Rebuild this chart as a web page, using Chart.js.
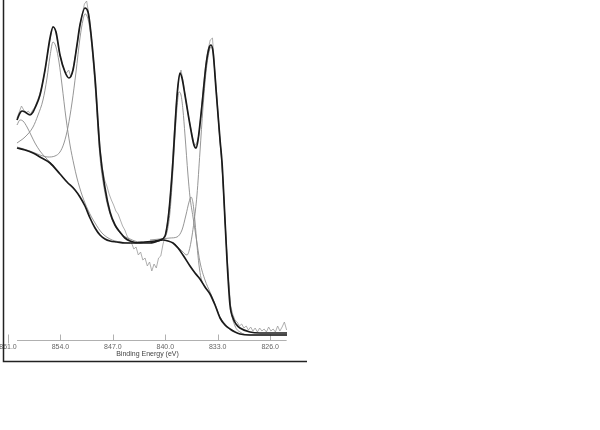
<!DOCTYPE html>
<html><head><meta charset="utf-8">
<script src="https://cdn.jsdelivr.net/npm/chart.js@4.4.1/dist/chart.umd.min.js"></script>
<style>html,body{margin:0;padding:0;background:#fff;}#wrap{position:absolute;left:0;top:0;width:600px;height:430px;}</style>
</head><body><div id="wrap"><canvas id="c" width="600" height="430"></canvas></div>
<script>
// Binding energy tick labels
const tickValues = [861, 854, 847, 840, 833, 826];
const tickLabels = ['861.0', '854.0', '847.0', '840.0', '833.0', '826.0'];
const axisTitle = 'Binding Energy (eV)';

// Raw spectrum (binding energy, intensity a.u.)
const rawE = [859.8,859.5,859.2,858.9,858.6,858.3,858.0,857.7,857.4,857.1,856.8,856.5,856.2,855.9,855.6,855.3,855.0,854.7,854.4,854.1,853.8,853.5,853.2,852.9,852.6,852.3,852.0,851.7,851.4,851.1,850.8,850.5,850.2,849.9,849.6,849.3,849.0,848.7,848.4,848.1,847.8,847.5,847.2,846.9,846.6,846.3,846.0,845.7,845.4,845.1,844.8,844.5,844.2,843.9,843.6,843.3,843.0,842.7,842.4,842.1,841.8,841.5,841.2,840.9,840.6,840.3,840.0,839.7,839.4,839.1,838.8,838.5,838.2,837.9,837.6,837.3,837.0,836.7,836.4,836.1,835.8,835.5,835.2,834.9,834.6,834.3,834.0,833.7,833.4,833.1,832.8,832.5,832.2,831.9,831.6,831.3,831.0,830.7,830.4,830.1,829.8,829.5,829.2,828.9,828.6,828.3,828.0,827.7,827.4,827.1,826.8,826.5,826.2,825.9,825.6,825.3,825.0,824.7,824.4,824.1,823.8];
const rawI = [222,228,234,230,227,229,226,230,233,239,245,253,264,276,291,304,314,311,299,286,277,270,267,270,263,272,285,299,315,325,336,339,325,306,282,256,222,190,172,160,154,146,140,135,129,126,120,114,110,104,100,97,91,93,85,88,80,82,74,78,69,76,72,82,84,96,104,118,137,168,208,239,262,270,258,242,228,216,204,194,197,205,229,254,276,290,300,302,270,243,210,183,147,102,68,35,26,20,18,14,16,12,14,10,13,9,12,8,12,9,11,8,13,9,11,8,14,9,13,18,10];

// Fitted envelope
const envE = [859.8,859.4,859.13,858.73,858.06,857.66,857.4,856.73,856.06,855.39,854.99,854.59,854.06,853.39,852.86,852.32,851.79,851.39,850.72,850.32,850.05,849.38,848.72,848.05,847.38,846.71,846.05,845.38,844.71,843.38,842.04,840.71,840.04,839.64,839.37,838.97,838.57,838.3,838.04,837.77,837.37,836.7,836.17,835.9,835.63,835.1,834.56,834.16,833.9,833.62,833.22,832.69,832.42,832.16,831.76,831.36,830.96,830.56,830.03,828.69,827.36,823.75];
const envI = [220,227,229,228,225,228,232,245,270,302,313,308,285,268,262,270,295,315,332,328,315,262,190,152,128,115,108,102,99,97,97,100,104,120,140,180,230,255,267,262,245,215,195,192,200,235,275,292,295,288,250,200,177,140,80,35,22,16,12,8,7,7];

// Background
const bgE = [859.8,858.73,857.66,856.73,855.39,854.06,853.12,852.05,851.39,850.72,850.05,849.38,848.72,848.05,847.38,846.45,845.38,844.31,842.71,841.37,840.31,839.64,838.97,838.3,837.64,836.7,836.03,835.37,834.7,834.03,833.36,832.69,832.03,831.36,830.69,830.03,828.69,823.75];
const bgI = [192,190,187,183,177,166,158,150,143,134,122,112,105,101,99,98,97,97,98,99,100,99,97,92,85,74,67,61,53,46,35,22,15,11,8,6,5,5];

// Components (each drawn on top of the background)
const satE = [859.8,859.4,859.0,858.46,857.93,857.4,856.73,856.06,855.39,854.73,854.06];
const satI = [215,220,219,213,205,197,189,183,178,172,166];

const p855E = [859.8,858.73,857.66,856.99,856.33,855.79,855.39,854.99,854.59,854.19,853.79,853.26,852.72,852.19,851.79,851.12,850.32,849.38,848.45,847.38,846.05,844.71];
const p855I = [197,203,213,225,240,262,284,298,293,278,255,222,195,175,162,145,130,117,107,101,98,97];

const p851E = [859.8,858.06,856.73,855.66,854.73,854.06,853.52,852.99,852.46,851.92,851.39,850.99,850.72,850.45,850.05,849.38,848.72,848.05,847.38,846.71,846.05,844.71,843.38,842.04,840.71];
const p851I = [193,189,185,183,184,188,197,213,237,268,302,320,326,324,310,255,183,147,126,114,107,101,98,98,99];

const p838E = [841.37,840.71,840.31,839.77,839.37,839.1,838.7,838.44,838.17,837.9,837.64,837.37,836.97,836.7,836.3,835.77,835.37,834.7,834.03,833.36,832.69,831.36];
const p838I = [99,100,101,108,128,155,205,232,248,245,230,205,165,143,123,97,78,60,48,36,23,11];

const p836E = [842.04,840.71,839.37,838.44,837.77,837.24,836.83,836.57,836.3,836.03,835.77,835.5,835.23,834.7];
const p836I = [100,101,102,103,110,125,138,143,137,118,95,75,62,53];

const p834E = [838.7,837.77,837.1,836.7,836.17,835.77,835.37,834.97,834.56,834.16,833.9,833.62,833.22,832.82,832.42,832.03,831.62,831.22,830.69,830.03,828.69,823.75];
const p834I = [96,89,85,93,118,145,188,232,268,288,293,287,250,210,172,120,65,30,14,8,5,5];

function pts(xs, ys) {
  const n = Math.min(xs.length, ys.length);
  const out = [];
  for (let i = 0; i < n; i++) out.push({x: xs[i], y: ys[i]});
  return out;
}

const thick = '#1a1a1a';
const thin = '#8a8a8a';

function thinSet(xs, ys) {
  return {data: pts(xs, ys), borderColor: thin, borderWidth: 0.9, pointRadius: 0, cubicInterpolationMode: 'monotone', fill: false};
}

const decor = {
  id: 'decor',
  beforeDatasetsDraw(chart) {
    const ctx = chart.ctx, xs = chart.scales.x, a = chart.chartArea;
    const y = Math.round(a.bottom) + 0.5;
    ctx.save();
    ctx.strokeStyle = '#b0b0b0';
    ctx.lineWidth = 1;
    ctx.beginPath();
    ctx.moveTo(xs.getPixelForValue(rawE[0]), y);
    ctx.lineTo(xs.getPixelForValue(rawE[rawE.length - 1]), y);
    ctx.stroke();
    tickValues.forEach((v, i) => {
      const px = Math.round(xs.getPixelForValue(v)) + 0.5;
      ctx.beginPath();
      ctx.moveTo(px, y - 6);
      ctx.lineTo(px, y + (i === 0 ? 3 : 0));
      ctx.stroke();
    });
    ctx.restore();
  },
  afterDraw(chart) {
    const ctx = chart.ctx;
    ctx.save();
    ctx.strokeStyle = '#222';
    ctx.lineWidth = 1.5;
    ctx.beginPath();
    ctx.moveTo(3.5, 0);
    ctx.lineTo(3.5, 361.5);
    ctx.lineTo(307, 361.5);
    ctx.stroke();
    ctx.restore();
  }
};

new Chart(document.getElementById('c'), {
  type: 'scatter',
  data: {
    datasets: [
      {data: pts(envE, envI), borderColor: thick, borderWidth: 1.7, pointRadius: 0, cubicInterpolationMode: 'monotone', showLine: true},
      {data: pts(bgE, bgI), borderColor: thick, borderWidth: 1.7, pointRadius: 0, cubicInterpolationMode: 'monotone', showLine: true},
      Object.assign(thinSet(satE, satI), {showLine: true}),
      Object.assign(thinSet(p855E, p855I), {showLine: true}),
      Object.assign(thinSet(p851E, p851I), {showLine: true}),
      Object.assign(thinSet(p838E, p838I), {showLine: true}),
      Object.assign(thinSet(p836E, p836I), {showLine: true}),
      Object.assign(thinSet(p834E, p834I), {showLine: true}),
      {data: pts(rawE, rawI), borderColor: '#9a9a9a', borderWidth: 0.8, pointRadius: 0, tension: 0, showLine: true}
    ]
  },
  options: {
    responsive: false,
    animation: false,
    devicePixelRatio: 1,
    layout: {padding: {left: 8, right: 313, top: 0, bottom: 72}},
    plugins: {legend: {display: false}, tooltip: {enabled: false}},
    scales: {
      x: {
        type: 'linear',
        reverse: true,
        min: 823.75,
        max: 861,
        afterBuildTicks(scale) { scale.ticks = tickValues.map(v => ({value: v})); },
        afterFit(scale) { scale.height = 18; scale.paddingLeft = 0; scale.paddingRight = 0; },
        grid: {display: false, drawTicks: false},
        border: {display: false},
        ticks: {
          autoSkip: false, maxRotation: 0, padding: 3,
          color: '#666', font: {family: 'Liberation Sans', size: 7},
          callback(v) { const i = tickValues.indexOf(v); return i >= 0 ? tickLabels[i] : ''; }
        },
        title: {display: true, text: axisTitle, color: '#444', font: {family: 'Liberation Sans', size: 7}, padding: 0}
      },
      y: {type: 'linear', display: false, min: 0, max: 340}
    }
  },
  plugins: [decor]
});
</script></body></html>
